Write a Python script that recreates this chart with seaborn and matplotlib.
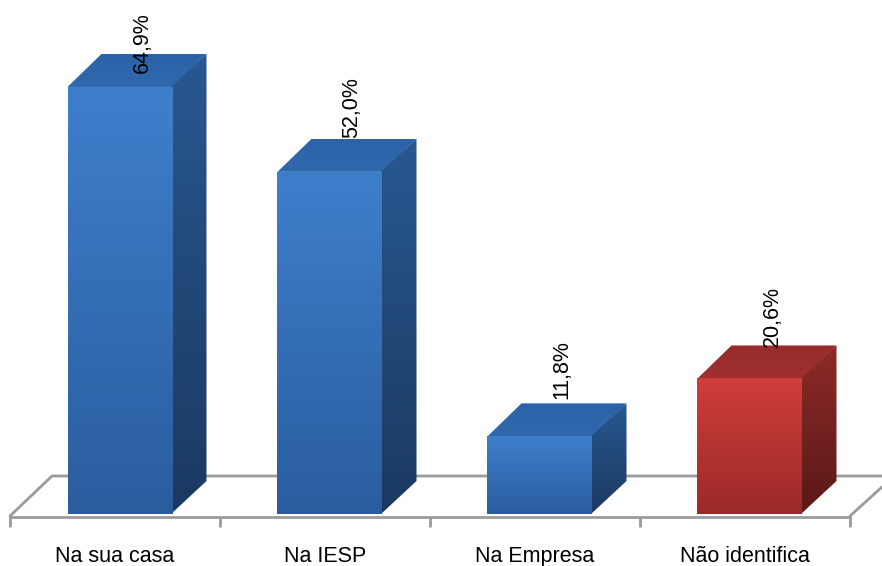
import numpy as np
import pandas as pd
import matplotlib.pyplot as plt
import seaborn as sns
from matplotlib.colors import LinearSegmentedColormap
from matplotlib.patches import Polygon

# dados do grafico
categorias = ['Na sua casa', 'Na IESP', 'Na Empresa', 'Não identifica']
valores = [64.9, 52.0, 11.8, 20.6]
rotulos = ['64,9%', '52,0%', '11,8%', '20,6%']
subida_rotulo = [14, 34, 37, 31]  # distancia em pixels do topo da barra

azul = {'frente': ['#3e7fcc', '#2a5d9e'], 'topo': ['#2c63a8', '#3068ae'], 'lado': ['#285890', '#1b3960']}
vermelho = {'frente': ['#cf3d3a', '#9a2a28'], 'topo': ['#972c2a', '#a03030'], 'lado': ['#8c2b29', '#5a1816']}
cores = [azul, azul, azul, vermelho]

W, H = 882, 566
PX_X = 210.0   # pixels por categoria
PX_Y = 6.58    # pixels por ponto percentual
DX = 34 / PX_X
DY = 33 / PX_Y
DESLOC = 5 / PX_X
SOBRA = 1.5 / PX_X  # faces de tras entram um pouco sob a frente
CINZA = '#9b9b9b'

sns.set_theme(style='white')
plt.rcParams['font.family'] = ['Liberation Sans', 'DejaVu Sans']

df = pd.DataFrame({'categoria': categorias, 'valor': valores})

fig = plt.figure(figsize=(W / 100, H / 100), dpi=100)
ax = fig.add_axes([10 / W, (H - 517) / H, 840 / W, 517 / H])
sns.barplot(data=df, x='categoria', y='valor', color='#3570b5', width=0.5, ax=ax,
            saturation=1, zorder=3)

ax.set_xlim(-0.5, 3.5)
ax.set_ylim(-3 / PX_Y, 514 / PX_Y)


def px(x, y):
    # converte pixel da imagem para coordenada dos dados
    return ax.transData.inverted().transform((x, H - y))


def face(vertices, par, z):
    # face da caixa preenchida com gradiente vertical
    vertices = np.array(vertices)
    poly = Polygon(vertices, closed=True, transform=ax.transData, fc='none', ec='none')
    ax.add_patch(poly)
    cmap = LinearSegmentedColormap.from_list('g', par)
    im = ax.imshow(np.linspace(0, 1, 256).reshape(-1, 1), cmap=cmap, aspect='auto',
                   origin='upper', interpolation='bilinear', zorder=z,
                   extent=(vertices[:, 0].min(), vertices[:, 0].max(),
                           vertices[:, 1].min(), vertices[:, 1].max()))
    im.set_clip_path(poly)
    im.set_clip_box(None)


for barra, cor, rotulo, subida in zip(ax.patches, cores, rotulos, subida_rotulo):
    barra.set_x(barra.get_x() + DESLOC)
    barra.set_alpha(0)
    x0, x1 = barra.get_x(), barra.get_x() + barra.get_width()
    y1 = barra.get_height()

    face([(x0, y1), (x1, y1), (x1 + DX, y1 + DY), (x0 + DX, y1 + DY)], cor['topo'], 4)
    face([(x1 - SOBRA, 0), (x1 + DX, DY), (x1 + DX, y1 + DY), (x1 - SOBRA, y1)], cor['lado'], 4)
    face([(x0, 0), (x1, 0), (x1, y1 + 0.05), (x0, y1 + 0.05)], cor['frente'], 5)

    ax.annotate(rotulo, xy=((x0 + x1) / 2, y1), xytext=(22, subida),
                textcoords='offset pixels', rotation=90, ha='center', va='bottom',
                fontsize=15.5, color='black', zorder=6, annotation_clip=False)

# chao do grafico
pontos_chao = [[(10, 516), (52, 476), (882, 476)], [(850, 516), (882, 487)]]
for trecho in pontos_chao:
    xy = np.array([px(*p) for p in trecho])
    ax.plot(xy[:, 0], xy[:, 1], color=CINZA, lw=2, clip_on=False, zorder=1)

for lado in ['top', 'left', 'right']:
    ax.spines[lado].set_visible(False)
ax.spines['bottom'].set_color(CINZA)
ax.spines['bottom'].set_linewidth(2)

ax.set_xlabel('')
ax.set_ylabel('')
ax.set_yticks([])
ax.set_xticks(range(len(categorias)))
ax.set_xticklabels(categorias, fontsize=15.5, color='black')
ax.set_xticks(np.arange(-0.5, 4), minor=True)
ax.tick_params(axis='x', which='major', length=0, pad=21)
ax.tick_params(axis='x', which='minor', bottom=True, length=7, width=2, color=CINZA)

fig.savefig('out.png', dpi=100)
